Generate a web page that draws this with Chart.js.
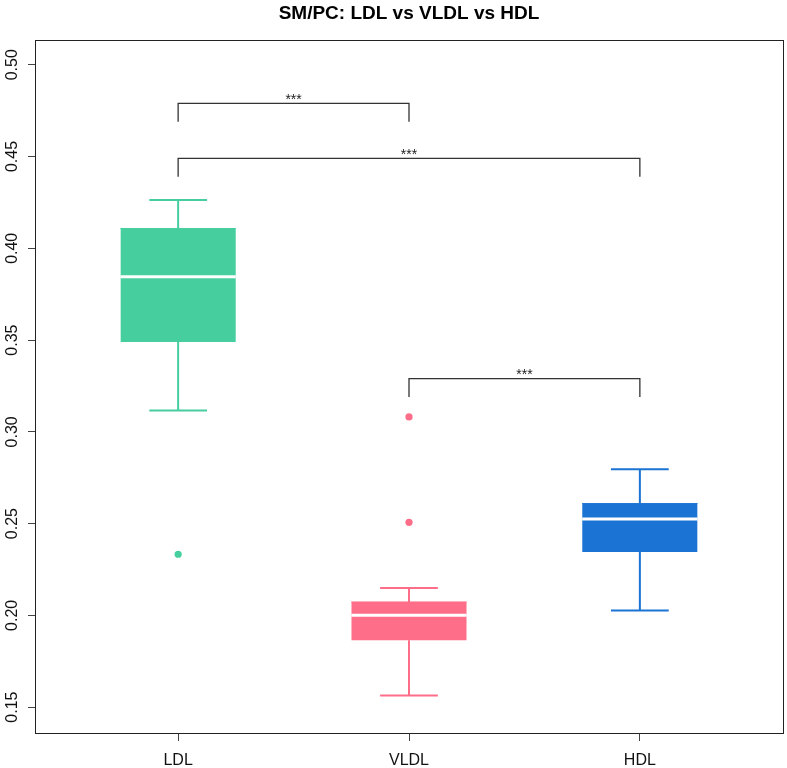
<!DOCTYPE html>
<html>
<head>
<meta charset="utf-8">
<script src="https://cdn.jsdelivr.net/npm/chart.js@4"></script>
<style>
  html, body { margin: 0; padding: 0; background: #fff; }
  #wrap { width: 787px; height: 768px; }
</style>
</head>
<body>
<div id="wrap"><canvas id="c" width="787" height="768"></canvas></div>
<script>
// ---- data ----
const chartTitle   = 'SM/PC: LDL vs VLDL vs HDL';
const categories   = ['LDL', 'VLDL', 'HDL'];
const whiskerLow   = [0.3116, 0.1564, 0.2027];
const q1           = [0.3490, 0.1864, 0.2345];
const median       = [0.3845, 0.2000, 0.2525];
const q3           = [0.4108, 0.2073, 0.2609];
const whiskerHigh  = [0.4263, 0.2149, 0.2796];
const outliers     = [[0.2333], [0.3081, 0.2507], []];
const boxColors    = ['#46CE9F', '#FF6E89', '#1B74D4'];

const comparisonA     = ['LDL', 'LDL', 'VLDL'];
const comparisonB     = ['VLDL', 'HDL', 'HDL'];
const bracketHeights  = [0.479, 0.449, 0.329];
const bracketLabels   = ['***', '***', '***'];

const yTicks = [0.15, 0.20, 0.25, 0.30, 0.35, 0.40, 0.45, 0.50];
const yRange = [0.1359, 0.5135];
const xRange = [0.38, 3.62];

// ---- styles ----
const BOX_HALF = 0.25, CAP_HALF = 0.125, BRACKET_TIP = 0.01;
const FONT = '"Liberation Sans", Arial, Helvetica, sans-serif';

const pos = name => categories.indexOf(name) + 1;
const datasets = [];

categories.forEach((cat, i) => {
  const x = i + 1;
  const col = boxColors[i];
  // box (Q1..Q3)
  datasets.push({
    type: 'line', order: 3,
    data: [{x: x - BOX_HALF, y: q3[i]}, {x: x + BOX_HALF, y: q3[i]}],
    borderColor: col, borderWidth: 1, backgroundColor: col,
    fill: {value: q1[i]}, pointRadius: 0
  });
  // whiskers and caps
  datasets.push({
    type: 'line', order: 2,
    data: [
      {x: x, y: q3[i]}, {x: x, y: whiskerHigh[i]}, {x: x, y: null},
      {x: x - CAP_HALF, y: whiskerHigh[i]}, {x: x + CAP_HALF, y: whiskerHigh[i]}, {x: x, y: null},
      {x: x, y: q1[i]}, {x: x, y: whiskerLow[i]}, {x: x, y: null},
      {x: x - CAP_HALF, y: whiskerLow[i]}, {x: x + CAP_HALF, y: whiskerLow[i]}
    ],
    borderColor: col, borderWidth: 2, fill: false, pointRadius: 0, spanGaps: false
  });
  // median
  datasets.push({
    type: 'line', order: 1,
    data: [{x: x - BOX_HALF, y: median[i]}, {x: x + BOX_HALF, y: median[i]}],
    borderColor: '#ffffff', borderWidth: 3, fill: false, pointRadius: 0
  });
  // outliers
  datasets.push({
    type: 'scatter', order: 1,
    data: outliers[i].map(v => ({x: x, y: v})),
    backgroundColor: col, borderColor: col, pointRadius: 3.6, borderWidth: 0
  });
});

// significance brackets
bracketHeights.forEach((h, k) => {
  const a = pos(comparisonA[k]), b = pos(comparisonB[k]);
  datasets.push({
    type: 'line', order: 0,
    data: [{x: a, y: h - BRACKET_TIP}, {x: a, y: h}, {x: b, y: h}, {x: b, y: h - BRACKET_TIP}],
    borderColor: '#333333', borderWidth: 1.3, fill: false, pointRadius: 0
  });
});

const framePlugin = {
  id: 'frame',
  afterDraw(chart) {
    const {ctx, chartArea: ca, scales} = chart;
    ctx.save();
    ctx.strokeStyle = '#222';
    ctx.lineWidth = 1;
    ctx.strokeRect(Math.round(ca.left) + 0.5, Math.round(ca.top) + 0.5,
                   Math.round(ca.right - ca.left), Math.round(ca.bottom - ca.top));
    // title, centred over the plot region
    ctx.fillStyle = '#000';
    ctx.font = 'bold 19px ' + FONT;
    ctx.textAlign = 'center';
    ctx.textBaseline = 'middle';
    ctx.fillText(chartTitle, (ca.left + ca.right) / 2, 14);
    // bracket labels
    ctx.fillStyle = '#222';
    ctx.font = '14px ' + FONT;
    ctx.textBaseline = 'alphabetic';
    bracketHeights.forEach((h, k) => {
      const xa = scales.x.getPixelForValue(pos(comparisonA[k]));
      const xb = scales.x.getPixelForValue(pos(comparisonB[k]));
      ctx.fillText(bracketLabels[k], (xa + xb) / 2, scales.y.getPixelForValue(h) + 0.5);
    });
    ctx.restore();
  }
};

new Chart(document.getElementById('c'), {
  type: 'scatter',
  data: {datasets},
  options: {
    responsive: false,
    animation: false,
    layout: {padding: {left: 0, right: 3, top: 40, bottom: 0}},
    plugins: {
      legend: {display: false},
      tooltip: {enabled: false},
      title: {display: false}
    },
    scales: {
      x: {
        type: 'linear', min: xRange[0], max: xRange[1],
        afterBuildTicks: s => { s.ticks = categories.map((c, i) => ({value: i + 1})); },
        afterFit: s => { s.height = 35; },
        grid: {display: true, drawOnChartArea: false, drawTicks: true, tickLength: 8, tickColor: '#444', color: '#444'},
        border: {display: false},
        ticks: {
          color: '#111', font: {family: FONT, size: 16}, padding: 10, maxRotation: 0, autoSkip: false,
          callback: v => categories[Math.round(v) - 1]
        }
      },
      y: {
        type: 'linear', min: yRange[0], max: yRange[1],
        afterBuildTicks: s => { s.ticks = yTicks.map(v => ({value: v})); },
        afterFit: s => { s.width = 35; },
        grid: {display: true, drawOnChartArea: false, drawTicks: true, tickLength: 7, tickColor: '#444', color: '#444'},
        border: {display: false},
        ticks: {
          color: '#111', font: {family: FONT, size: 16}, padding: 0, minRotation: 90, maxRotation: 90,
          autoSkip: false, crossAlign: 'center',
          callback: v => v.toFixed(2)
        }
      }
    }
  },
  plugins: [framePlugin]
});
</script>
</body>
</html>
